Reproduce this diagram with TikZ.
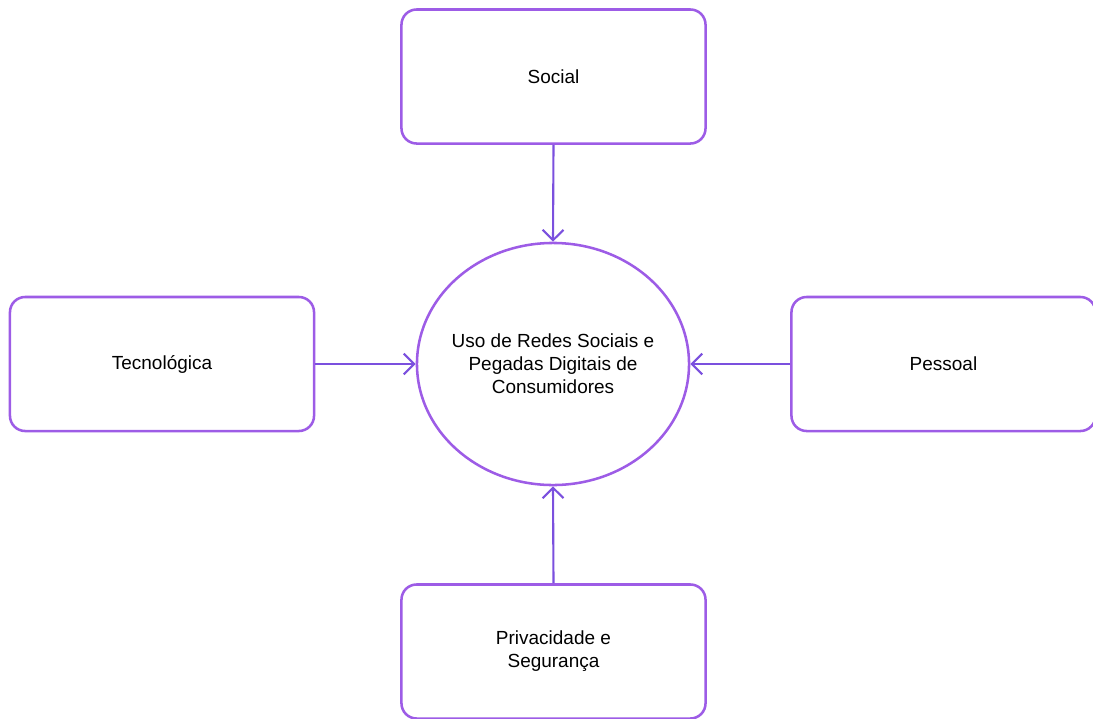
\documentclass[tikz,border=0pt]{standalone}
\usepackage{fontspec}
\setmainfont{Liberation Sans}
\usetikzlibrary{arrows.meta,shapes.geometric}
\definecolor{lila}{HTML}{9D5CE6}
\definecolor{lilad}{HTML}{7B50DE}
\tikzset{
  feld/.style={draw=lila,line width=1.8pt,rounded corners=0.38cm,
    minimum width=7.6cm,minimum height=3.35cm,align=center,
    font=\fontsize{13.5}{16.5}\selectfont},
  kern/.style={ellipse,draw=lila,line width=1.8pt,inner ysep=0pt,inner xsep=-0.14cm,
    minimum width=6.8cm,minimum height=6.05cm,align=center,
    font=\fontsize{13.5}{16.5}\selectfont},
  pfeil/.style={-{Straight Barb[length=2.6mm,width=5.2mm,line width=1.5pt]},
    lilad,line width=1.5pt},
}
\begin{document}
\begin{tikzpicture}[x=0.025cm,y=-0.025cm]
  \useasboundingbox (0,0) rectangle (1093,718);
  \node[kern] (uso) at (553,364) {Uso de Redes Sociais e\\Pegadas Digitais de\\Consumidores};
  \node[feld] (social) at (553.5,76.5) {Social};
  \node[feld] (tec) at (162,364) {Tecnológica};
  \node[feld] (pes) at (943.5,364) {Pessoal};
  \node[feld] (priv) at (553.5,651.5) {Privacidade e\\Segurança};
  \draw[pfeil] (social.south) -- (uso.north);
  \draw[pfeil] (tec.east) -- (uso.west);
  \draw[pfeil] (pes.west) -- (uso.east);
  \draw[pfeil] (priv.north) -- (uso.south);
\end{tikzpicture}
\end{document}
